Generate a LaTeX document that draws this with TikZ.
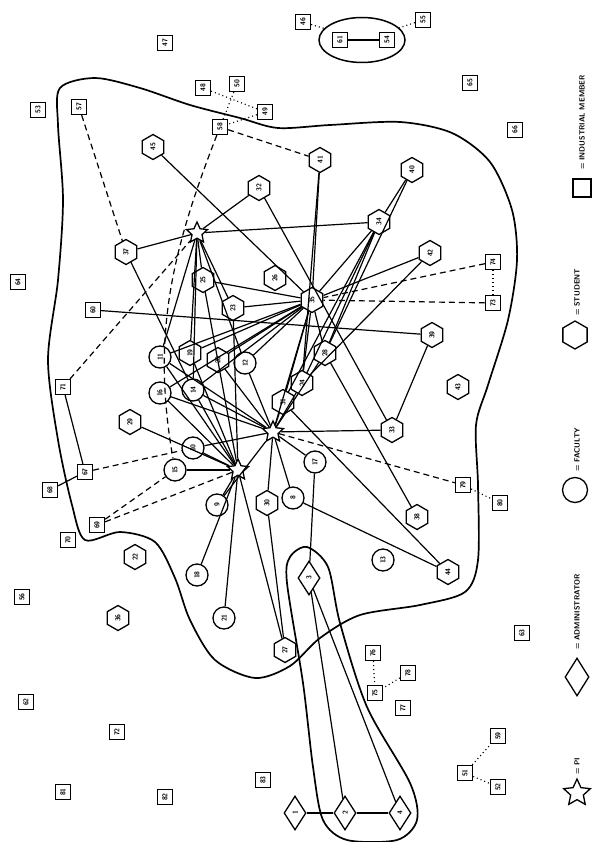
\documentclass[tikz,border=0pt]{standalone}
\usetikzlibrary{shapes.geometric}

\begin{document}
\begin{tikzpicture}[x=1pt,y=-1pt,
 ind/.style={draw,line width=1.3pt,rotate=90,minimum size=15pt,inner sep=0pt,font=\sffamily\bfseries\fontsize{7}{7}\selectfont},
 stud/.style={draw,line width=1.3pt,rotate=90,regular polygon,regular polygon sides=6,minimum size=25pt,inner sep=0pt,font=\sffamily\bfseries\fontsize{7}{7}\selectfont},
 fac/.style={draw,line width=1.3pt,rotate=90,circle,minimum size=22pt,inner sep=0pt,font=\sffamily\bfseries\fontsize{7}{7}\selectfont},
 admin/.style={draw,line width=1.3pt,rotate=90,diamond,aspect=1.55,minimum width=34pt,minimum height=22pt,inner sep=0pt,font=\sffamily\bfseries\fontsize{7}{7}\selectfont},
 pistar/.style={draw,line width=1.3pt,star,star points=5,star point ratio=2.1,minimum size=22pt,inner sep=0pt},
 lgtext/.style={rotate=90,anchor=west,inner sep=0pt,font=\sffamily\bfseries\fontsize{7.5}{8}\selectfont},
 edge/.style={line width=1.2pt},
 weak/.style={line width=1.2pt,dash pattern=on 6pt off 4pt},
 faint/.style={line width=1.2pt,dash pattern=on 1pt off 3pt},
 zone/.style={line width=1.7pt}]
\useasboundingbox (0,0) rectangle (591,842);

% enclosures
\draw[zone] plot[smooth cycle] coordinates {(60,88) (95,78) (140,88) (190,105) (240,118) (278,128)
 (330,125) (400,122) (452,133) (490,162) (512,210) (517,260) (508,320) (488,385) (476,425)
 (478,485) (478,560) (465,592) (420,605) (360,615) (320,638) (290,666) (255,678) (215,660)
 (190,620) (175,578) (155,542) (120,532) (85,540) (72,505) (58,440) (48,360) (58,280) (63,200) (58,125)};
\draw[zone] plot[smooth cycle] coordinates {(290,557) (307,547) (328,567) (340,623) (367,707) (410,783)
 (417,820) (397,840) (347,840) (323,820) (313,767) (303,683) (287,583)};
\node[draw,ellipse,line width=1.5pt,minimum width=86pt,minimum height=45pt] (grp) at (362,40) {};

% industrial members
\node[ind] (q46) at (303,22) {46};
\node[ind] (q61) at (340,40) {61};
\node[ind] (q54) at (387,40) {54};
\node[ind] (q55) at (423,20) {55};
\node[ind] (q65) at (470,83) {65};
\node[ind] (q66) at (515,130) {66};
\node[ind] (q47) at (165,43) {47};
\node[ind] (q53) at (38,110) {53};
\node[ind] (q57) at (79,107) {57};
\node[ind] (q48) at (203,88) {48};
\node[ind] (q50) at (237,84) {50};
\node[ind] (q49) at (265,112) {49};
\node[ind] (q58) at (220,127) {58};
\node[ind] (q74) at (493,262) {74};
\node[ind] (q73) at (493,303) {73};
\node[ind] (q64) at (18,282) {64};
\node[ind] (q60) at (93,310) {60};
\node[ind] (q71) at (63,387) {71};
\node[ind] (q67) at (85,472) {67};
\node[ind] (q68) at (50,490) {68};
\node[ind] (q69) at (97,525) {69};
\node[ind] (q70) at (68,540) {70};
\node[ind] (q56) at (22,597) {56};
\node[ind] (q79) at (463,485) {79};
\node[ind] (q80) at (500,503) {80};
\node[ind] (q63) at (522,633) {63};
\node[ind] (q76) at (373,653) {76};
\node[ind] (q78) at (408,673) {78};
\node[ind] (q75) at (375,693) {75};
\node[ind] (q77) at (403,708) {77};
\node[ind] (q62) at (26,702) {62};
\node[ind] (q72) at (117,732) {72};
\node[ind] (q81) at (63,792) {81};
\node[ind] (q82) at (165,797) {82};
\node[ind] (q83) at (263,780) {83};
\node[ind] (q59) at (498,736) {59};
\node[ind] (q51) at (465,773) {51};
\node[ind] (q52) at (498,787) {52};

% students
\node[stud] (h45) at (153,147) {45};
\node[stud] (h32) at (259,188) {32};
\node[stud] (h41) at (320,160) {41};
\node[stud] (h40) at (412,170) {40};
\node[stud] (h34) at (379,222) {34};
\node[stud] (h42) at (430,253) {42};
\node[stud] (h37) at (126,252) {37};
\node[stud] (h25) at (203,280) {25};
\node[stud] (h26) at (275,278) {26};
\node[stud] (h23) at (233,308) {23};
\node[stud] (h35) at (312,300) {35};
\node[stud] (h39) at (432,335) {39};
\node[stud] (h28) at (325,353) {28};
\node[stud] (h19) at (190,353) {19};
\node[stud] (h20) at (218,360) {20};
\node[stud] (h24) at (302,383) {24};
\node[stud] (h31) at (283,402) {31};
\node[stud] (h43) at (458,387) {43};
\node[stud] (h33) at (392,430) {33};
\node[stud] (h29) at (130,422) {29};
\node[stud] (h30) at (267,503) {30};
\node[stud] (h38) at (417,517) {38};
\node[stud] (h44) at (448,572) {44};
\node[stud] (h22) at (135,557) {22};
\node[stud] (h36) at (118,618) {36};
\node[stud] (h27) at (285,650) {27};

% faculty
\node[fac] (c11) at (160,357) {11};
\node[fac] (c12) at (245,363) {12};
\node[fac] (c16) at (160,393) {16};
\node[fac] (c14) at (193,390) {14};
\node[fac] (c10) at (193,448) {10};
\node[fac] (c15) at (175,470) {15};
\node[fac] (c9) at (217,505) {9};
\node[fac] (c8) at (293,498) {8};
\node[fac] (c17) at (315,462) {17};
\node[fac] (c18) at (197,575) {18};
\node[fac] (c21) at (224,618) {21};
\node[fac] (c13) at (383,560) {13};

% administrators and PIs
\node[admin] (d1) at (295,813) {1};
\node[admin] (d2) at (345,813) {2};
\node[admin] (d4) at (400,813) {4};
\node[admin] (d3) at (309,578) {3};
\node[pistar] (p1) at (197,233) {};
\node[pistar] (p2) at (273,432) {};
\node[pistar] (p3) at (238,470) {};

\foreach \a/\b in {p1/h32,p1/h34,p1/h37,p1/h25,p1/c11,p1/h19,p1/c12,p1/h23,p1/c14,
 h45/h35,h32/h33,h41/h35,h41/h24,h40/h34,h40/h28,h34/h35,h34/h24,h34/h31,h34/h28,h42/h35,h42/h24,
 h35/h25,h35/h23,h35/c11,h35/h19,h35/h20,h35/c12,h35/c14,h35/c16,h35/h24,h35/h31,h35/p2,h35/h28,
 q60/h39,h37/c14,h39/h33,
 p2/h33,p2/c17,p2/c8,p2/h24,p2/h31,p2/c12,p2/c11,p2/c16,p2/c14,p2/h20,p2/h28,p2/c9,p2/h30,p2/c10,
 p3/h19,p3/c11,p3/c14,p3/c16,p3/c10,p3/c15,p3/c9,p3/c18,p3/c21,p3/h27,p3/h23,p3/h25,p3/h29,
 c8/h44,h31/h44,h38/h28,d3/c17,h27/h30,d3/d2,d3/d4,d1/d2,d2/d4,q71/q67,q68/q67,q61/q54}
 \draw[edge] (\a) -- (\b);
\foreach \a/\b in {q57/h37,q58/h41,q71/p1,q67/c10,q69/c15,q69/p3,p2/q79,q74/h35,q73/h35}
 \draw[weak] (\a) -- (\b);
\draw[weak] (q58) to[out=245,in=95] (c15);
\foreach \a/\b in {q79/q80,q74/q73,q48/q49,q50/q58,q49/q58,q46/grp,q55/grp,q76/q75,q78/q75,q51/q59,q51/q52}
 \draw[faint] (\a) -- (\b);

% legend
\node[ind,minimum size=18pt] (lgind) at (582,188) {};
\node[lgtext] (lgindt) at (582,170) {= INDUSTRIAL MEMBER};
\node[stud,minimum size=28pt] (lgstud) at (575,335) {};
\node[lgtext] (lgstudt) at (577,316) {= STUDENT};
\node[fac,minimum size=25pt] (lgfac) at (575,490) {};
\node[lgtext] (lgfact) at (577,472) {= FACULTY};
\node[admin,minimum width=38pt,minimum height=24pt] (lgadmin) at (577,677) {};
\node[lgtext] (lgadmint) at (577,650) {= ADMINISTRATOR};
\node[pistar,minimum size=28pt] (lgpi) at (577,793) {};
\node[lgtext] (lgpit) at (577,775) {= PI};
\end{tikzpicture}
\end{document}
